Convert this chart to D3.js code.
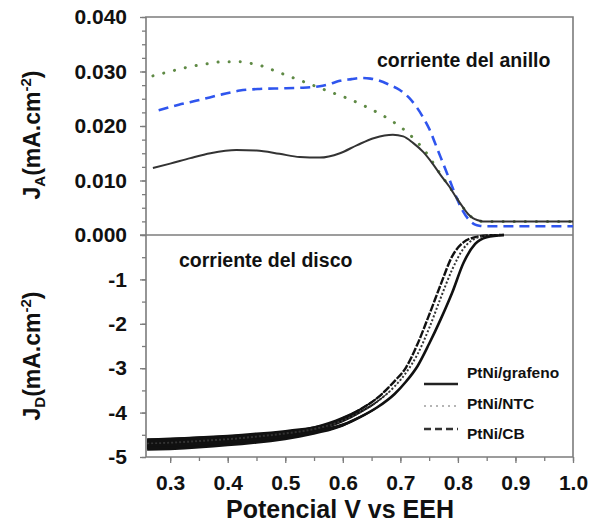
<!DOCTYPE html>
<html>
<head>
<meta charset="utf-8">
<script src="https://cdn.jsdelivr.net/npm/d3@7"></script>
<style>
  body { margin: 0; background: #fff; }
  svg { font-family: "Liberation Sans", Arial, sans-serif; }
</style>
</head>
<body>
<div id="main"></div>
<script>
// ---- datos: corriente del anillo (mA.cm-2) ----
const anilloGrafenoV = [0.27, 0.30, 0.335, 0.37, 0.415, 0.45, 0.49, 0.525, 0.56, 0.595, 0.625, 0.655, 0.687, 0.705, 0.722, 0.74, 0.756, 0.77, 0.785, 0.797, 0.808, 0.818, 0.826, 0.835, 0.843, 0.87, 1.0];
const anilloGrafenoJ = [0.0123, 0.0131, 0.0141, 0.0150, 0.0156, 0.0155, 0.0149, 0.0143, 0.0142, 0.0150, 0.0165, 0.0178, 0.0184, 0.0181, 0.0169, 0.0152, 0.0131, 0.0110, 0.0089, 0.0069, 0.0052, 0.0038, 0.0031, 0.0027, 0.0025, 0.0025, 0.0025];

const anilloNtcV = [0.27, 0.30, 0.335, 0.37, 0.392, 0.42, 0.44, 0.46, 0.48, 0.50, 0.525, 0.55, 0.577, 0.61, 0.641, 0.665, 0.687, 0.71, 0.728, 0.742, 0.756, 0.77, 0.785, 0.797, 0.808, 0.818, 0.83, 0.843, 0.87, 1.0];
const anilloNtcJ = [0.0292, 0.0300, 0.0309, 0.0315, 0.0318, 0.0318, 0.0315, 0.0310, 0.0302, 0.0294, 0.0284, 0.0274, 0.0263, 0.0250, 0.0235, 0.0222, 0.0208, 0.0190, 0.0172, 0.0155, 0.0134, 0.0111, 0.0089, 0.0069, 0.0052, 0.0038, 0.0029, 0.0025, 0.0025, 0.0025];

const anilloCbV = [0.28, 0.315, 0.352, 0.39, 0.421, 0.455, 0.49, 0.525, 0.56, 0.58, 0.595, 0.615, 0.632, 0.648, 0.664, 0.68, 0.699, 0.715, 0.728, 0.74, 0.751, 0.762, 0.774, 0.786, 0.797, 0.808, 0.82, 0.83, 0.837, 0.85, 1.0];
const anilloCbJ = [0.0229, 0.0239, 0.0248, 0.0258, 0.0265, 0.0268, 0.0269, 0.0270, 0.0273, 0.0278, 0.0283, 0.0286, 0.0288, 0.0287, 0.0283, 0.0276, 0.0266, 0.0252, 0.0235, 0.0215, 0.0193, 0.0164, 0.0132, 0.0100, 0.0070, 0.0045, 0.0027, 0.0019, 0.0017, 0.0016, 0.0016];

// ---- datos: corriente del disco (mA.cm-2) ----
const discoV        = [0.26, 0.30, 0.35, 0.40, 0.45, 0.50, 0.55, 0.60, 0.63, 0.66, 0.69, 0.71, 0.73, 0.75, 0.77, 0.79, 0.81, 0.83, 0.85, 0.88];
const discoGrafenoJ = [-4.74, -4.73, -4.70, -4.66, -4.61, -4.54, -4.44, -4.28, -4.10, -3.88, -3.58, -3.30, -2.95, -2.45, -1.90, -1.30, -0.62, -0.20, -0.05, 0];
const discoNtcJ     = [-4.70, -4.68, -4.64, -4.60, -4.54, -4.47, -4.37, -4.18, -3.99, -3.75, -3.41, -3.10, -2.68, -2.10, -1.42, -0.78, -0.30, -0.08, -0.02, 0];
const discoCbJ      = [-4.71, -4.69, -4.65, -4.61, -4.56, -4.49, -4.37, -4.13, -3.93, -3.67, -3.29, -2.98, -2.45, -1.80, -1.12, -0.48, -0.16, -0.05, -0.01, 0];
// espesor del ruido de la medida (semi-ancho de la banda)
const discoRuido    = [0.12, 0.12, 0.11, 0.10, 0.09, 0.08, 0.06, 0.04, 0.03, 0.02, 0, 0, 0, 0, 0, 0, 0, 0, 0, 0];

const xTicks = [0.3, 0.4, 0.5, 0.6, 0.7, 0.8, 0.9, 1.0];
const yTopTicks = [0, 0.01, 0.02, 0.03, 0.04];
const yBotTicks = [-5, -4, -3, -2, -1];

const series = ["PtNi/grafeno", "PtNi/NTC", "PtNi/CB"];

const ctx = {
    w: 599,
    h: 525,
    left: 146,
    right: 573,
    top: 17,
    mid: 235,
    bottom: 457,
    frame: "#7c7c7c",
};

const x = d3.scaleLinear().domain([0.258, 1.0]).range([ctx.left, ctx.right]);
const yTop = d3.scaleLinear().domain([0, 0.04]).range([ctx.mid, ctx.top]);
const yBot = d3.scaleLinear().domain([-5, 0]).range([ctx.bottom, ctx.mid]);

const svg = d3.select("#main").append("svg")
    .attr("width", ctx.w)
    .attr("height", ctx.h);

function zip(vs, js){
    return vs.map((v, i) => [v, js[i]]);
}

// ---- ejes ----
function styleAxis(g){
    g.select(".domain").remove();
    g.selectAll("line").attr("stroke", ctx.frame).attr("stroke-width", 1.3);
    g.selectAll("text").attr("fill", "#111").attr("font-size", 21).attr("font-weight", "bold");
}

// ticks menores
svg.append("g")
   .attr("transform", `translate(${ctx.left},0)`)
   .call(d3.axisLeft(yTop).tickValues(d3.range(0, 0.0401, 0.0025)).tickSize(4).tickFormat(""))
   .call(styleAxis);
svg.append("g")
   .attr("transform", `translate(${ctx.left},0)`)
   .call(d3.axisLeft(yBot).tickValues(d3.range(-5, 0, 0.5)).tickSize(4).tickFormat(""))
   .call(styleAxis);
svg.append("g")
   .attr("transform", `translate(0,${ctx.bottom})`)
   .call(d3.axisBottom(x).tickValues(d3.range(0.3, 1.001, 0.05)).tickSize(4).tickFormat(""))
   .call(styleAxis);

// ticks mayores con etiquetas
svg.append("g")
   .attr("transform", `translate(${ctx.left},0)`)
   .call(d3.axisLeft(yTop).tickValues(yTopTicks).tickSize(6).tickPadding(13).tickFormat(d3.format(".3f")))
   .call(styleAxis);
svg.append("g")
   .attr("transform", `translate(${ctx.left},0)`)
   .call(d3.axisLeft(yBot).tickValues(yBotTicks).tickSize(6).tickPadding(13).tickFormat(d => d3.format("d")(d).replace("−", "-")))
   .call(styleAxis);
svg.append("g")
   .attr("transform", `translate(0,${ctx.bottom})`)
   .call(d3.axisBottom(x).tickValues(xTicks).tickSize(6).tickPadding(12).tickFormat(d3.format(".1f")))
   .call(styleAxis);

// ---- marco ----
const frame = svg.append("g").attr("stroke", ctx.frame).attr("stroke-width", 1.6).attr("fill", "none");
frame.append("path").attr("d", `M${ctx.left},${ctx.bottom} V${ctx.top} H${ctx.right} V${ctx.bottom} Z`);
frame.append("line")
     .attr("x1", ctx.left - 6).attr("x2", ctx.right)
     .attr("y1", yTop(0)).attr("y2", yTop(0));

// ---- curvas del anillo ----
const lineTop = d3.line()
    .x(d => x(d[0]))
    .y(d => yTop(d[1]))
    .curve(d3.curveMonotoneX);

const gTop = svg.append("g").attr("fill", "none");
gTop.append("path")
    .datum(zip(anilloNtcV, anilloNtcJ))
    .attr("d", lineTop)
    .attr("stroke", "#5f8a45")
    .attr("stroke-width", 3)
    .attr("stroke-linecap", "round")
    .attr("stroke-dasharray", "0.1,11");
gTop.append("path")
    .datum(zip(anilloCbV, anilloCbJ))
    .attr("d", lineTop)
    .attr("stroke", "#2f55ee")
    .attr("stroke-width", 2.6)
    .attr("stroke-dasharray", "10,6");
gTop.append("path")
    .datum(zip(anilloGrafenoV, anilloGrafenoJ))
    .attr("d", lineTop)
    .attr("stroke", "#333")
    .attr("stroke-width", 2);

// ---- curvas del disco ----
const lineBot = d3.line()
    .x(d => x(d[0]))
    .y(d => yBot(d[1]))
    .curve(d3.curveMonotoneX);

const areaBot = d3.area()
    .x(d => x(d[0]))
    .y0(d => yBot(d[1] - d[2]))
    .y1(d => yBot(d[1] + d[2]))
    .curve(d3.curveMonotoneX);

const gBot = svg.append("g");
[discoGrafenoJ, discoNtcJ, discoCbJ].forEach(function(js){
    gBot.append("path")
        .datum(discoV.map((v, i) => [v, js[i], discoRuido[i]]))
        .attr("d", areaBot)
        .attr("fill", "#111");
});
gBot.append("path")
    .datum(zip(discoV, discoCbJ))
    .attr("d", lineBot)
    .attr("fill", "none")
    .attr("stroke", "#111")
    .attr("stroke-width", 2.4)
    .attr("stroke-dasharray", "8,1.5");
gBot.append("path")
    .datum(zip(discoV, discoNtcJ))
    .attr("d", lineBot)
    .attr("fill", "none")
    .attr("stroke", "#333")
    .attr("stroke-width", 2)
    .attr("stroke-dasharray", "2,2");
gBot.append("path")
    .datum(zip(discoV, discoGrafenoJ))
    .attr("d", lineBot)
    .attr("fill", "none")
    .attr("stroke", "#111")
    .attr("stroke-width", 2.6);

// ---- leyenda ----
const legend = svg.append("g");
const legendStyles = [
    {stroke: "#222", dash: null, width: 2.6, ly: 384, ty: 378},
    {stroke: "#b5b5b5", dash: "2,4", width: 2, ly: 406, ty: 409},
    {stroke: "#333", dash: "7,4", width: 2.4, ly: 429, ty: 439},
];
series.forEach(function(name, i){
    const s = legendStyles[i];
    legend.append("line")
          .attr("x1", 424).attr("x2", 458)
          .attr("y1", s.ly).attr("y2", s.ly)
          .attr("stroke", s.stroke)
          .attr("stroke-width", s.width)
          .attr("stroke-dasharray", s.dash);
    legend.append("text")
          .attr("x", 467).attr("y", s.ty)
          .attr("font-size", 15.5)
          .attr("font-weight", "bold")
          .attr("fill", "#111")
          .text(name);
});

// ---- textos ----
svg.append("text")
   .attr("x", 377).attr("y", 67)
   .attr("font-size", 19.5).attr("font-weight", "bold").attr("fill", "#111")
   .text("corriente del anillo");
svg.append("text")
   .attr("x", 179).attr("y", 267)
   .attr("font-size", 19.5).attr("font-weight", "bold").attr("fill", "#111")
   .text("corriente del disco");

svg.append("text")
   .attr("x", 340).attr("y", 518)
   .attr("text-anchor", "middle")
   .attr("font-size", 25).attr("font-weight", "bold").attr("fill", "#111")
   .text("Potencial V vs EEH");

function yLabel(sub, cy){
    const t = svg.append("text")
        .attr("transform", `translate(40,${cy}) rotate(-90)`)
        .attr("text-anchor", "middle")
        .attr("font-size", 23).attr("font-weight", "bold").attr("fill", "#111");
    t.append("tspan").text("J");
    t.append("tspan").attr("font-size", 15).attr("dy", 5).text(sub);
    t.append("tspan").attr("dy", -5).text("(mA.cm");
    t.append("tspan").attr("font-size", 15).attr("dy", -9).text("-2");
    t.append("tspan").attr("dy", 9).text(")");
}
yLabel("A", 135);
yLabel("D", 356);
</script>
</body>
</html>
